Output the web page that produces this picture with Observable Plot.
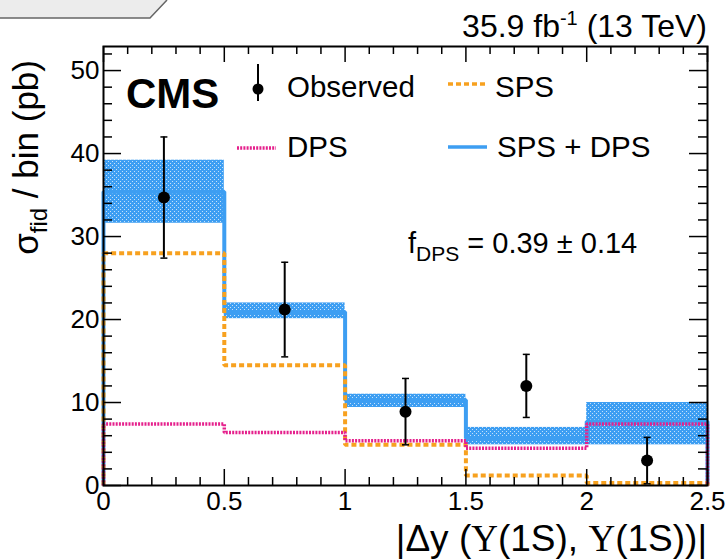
<!DOCTYPE html>
<html><head><meta charset="utf-8">
<script src="https://cdn.jsdelivr.net/npm/d3@7"></script>
<script src="https://cdn.jsdelivr.net/npm/@observablehq/plot@0.6"></script>
<style>
body{margin:0;background:#fff;}
#wrap{position:relative;width:726px;height:560px;overflow:hidden;background:#fff;}
</style></head><body>
<svg width="0" height="0" style="position:absolute"><defs>
<pattern id="hatch" width="4" height="4" patternUnits="userSpaceOnUse">
<rect width="4" height="4" fill="#3d9ef2"/>
<rect x="0" y="1" width="1" height="1" fill="#c4e1fb"/>
<rect x="2" y="3" width="1" height="1" fill="#c4e1fb"/>
</pattern></defs></svg>
<div id="wrap"></div>
<script>
// ---- data ----
const binEdges = [0, 0.5, 1, 1.5, 2, 2.5];
const binCenters = [0.25, 0.75, 1.25, 1.75, 2.25];
const observed = [34.7, 21.2, 8.9, 12.0, 3.0];
const obsHigh = [42.0, 26.9, 12.9, 15.8, 5.8];
const obsLow = [27.4, 15.5, 4.9, 8.2, 0.2];
const sps = [28.0, 14.5, 4.9, 1.2, 0.3];
const dps = [7.4, 6.4, 5.4, 4.5, 7.4];
const total = [35.4, 20.9, 10.3, 5.7, 7.7];
const bandLow = [31.6, 20.1, 9.4, 4.9, 4.9];
const bandHigh = [39.2, 22.0, 11.0, 7.0, 10.0];
const xTicks = [0, 0.5, 1, 1.5, 2, 2.5];
const yTicks = [0, 10, 20, 30, 40, 50];

// ---- derived tables ----
const bins = observed.map((_, i) => ({x1: binEdges[i], x2: binEdges[i + 1], lo: bandLow[i], hi: bandHigh[i]}));
const points = binCenters.map((x, i) => ({x, y: observed[i], lo: obsLow[i], hi: obsHigh[i]}));
function outline(vals) {
  const pts = [{x: binEdges[0], y: 0}];
  vals.forEach((v, i) => { pts.push({x: binEdges[i], y: v}, {x: binEdges[i + 1], y: v}); });
  pts.push({x: binEdges[vals.length], y: 0});
  return pts;
}
const xMinor = d3.range(0, 25).map(i => i / 10).filter(v => Math.abs(v * 2 - Math.round(v * 2)) > 1e-6);
const yMinor = d3.range(0, 53, 2).filter(v => v % 10 !== 0);

const W = 726, H = 560, mL = 103, mR = 19, mT = 46, mB = 75;
const fw = W - mL - mR, fh = H - mT - mB;
const blue = "#3d9ef2", orange = "#f7a11f", magenta = "#e5208c";
const capSymbol = {draw(ctx, size) { const r = Math.sqrt(size / Math.PI); ctx.moveTo(-r, 0); ctx.lineTo(r, 0); }};

const chart = Plot.plot({
  width: W, height: H, marginLeft: mL, marginRight: mR, marginTop: mT, marginBottom: mB,
  x: {domain: [0, 2.5]},
  y: {domain: [0, 52.9]},
  style: {fontFamily: "'Liberation Sans', Arial, sans-serif", background: "#fff", color: "#000", overflow: "visible"},
  marks: [
    Plot.rect(bins, {x1: "x1", x2: "x2", y1: "lo", y2: "hi", fill: "url(#hatch)"}),
    Plot.line(outline(total), {x: "x", y: "y", stroke: blue, strokeWidth: 4, strokeLinecap: "butt", strokeLinejoin: "miter"}),
    Plot.line(outline(sps), {x: "x", y: "y", stroke: orange, strokeWidth: 4, strokeDasharray: "5,3", strokeLinecap: "butt", strokeLinejoin: "miter"}),
    Plot.line(outline(dps), {x: "x", y: "y", stroke: magenta, strokeWidth: 3.5, strokeDasharray: "2,1.2", strokeLinecap: "butt", strokeLinejoin: "miter"}),
    Plot.ruleX(points, {x: "x", y1: "lo", y2: "hi", stroke: "#000", strokeWidth: 2}),
    Plot.dot(points, {x: "x", y: "hi", symbol: capSymbol, r: 3.5, stroke: "#000", strokeWidth: 1.5, fill: "none"}),
    Plot.dot(points, {x: "x", y: "lo", symbol: capSymbol, r: 3.5, stroke: "#000", strokeWidth: 1.5, fill: "none"}),
    Plot.dot(points, {x: "x", y: "y", r: 6, fill: "#000"}),
    // inward ticks
    Plot.tickY(yTicks, {y: d => d, stroke: "#000", strokeWidth: 1.5, insetRight: fw - 18}),
    Plot.tickY(yMinor, {y: d => d, stroke: "#000", strokeWidth: 1.5, insetRight: fw - 9}),
    Plot.tickY(yTicks, {y: d => d, stroke: "#000", strokeWidth: 1.5, insetLeft: fw - 18}),
    Plot.tickY(yMinor, {y: d => d, stroke: "#000", strokeWidth: 1.5, insetLeft: fw - 9}),
    Plot.tickX(xTicks, {x: d => d, stroke: "#000", strokeWidth: 1.5, insetTop: fh - 16}),
    Plot.tickX(xMinor, {x: d => d, stroke: "#000", strokeWidth: 1.5, insetTop: fh - 8}),
    Plot.tickX(xTicks, {x: d => d, stroke: "#000", strokeWidth: 1.5, insetBottom: fh - 16}),
    Plot.tickX(xMinor, {x: d => d, stroke: "#000", strokeWidth: 1.5, insetBottom: fh - 8}),
    Plot.axisY(yTicks, {tickSize: 0, tickPadding: 4, fontSize: 26, label: null, tickFormat: d => String(d)}),
    Plot.axisX(xTicks, {tickSize: 0, tickPadding: 6, fontSize: 26, label: null, tickFormat: d => String(d)}),
    Plot.frame({stroke: "#000", strokeWidth: 2})
  ]
});
document.getElementById("wrap").appendChild(chart);

// ---- annotations ----
const svg = d3.select(chart);
const ff = "'Liberation Sans', Arial, sans-serif";
// top-left tab
svg.append("path").attr("d", "M0,0 L167,0 L150,18 L0,18 Z").attr("fill", "#ececec");
svg.append("path").attr("d", "M0,18 L150,18 L167,0").attr("fill", "none").attr("stroke", "#666").attr("stroke-width", 1.5);

// lumi text
const lumi = svg.append("text").attr("x", 707).attr("y", 37).attr("text-anchor", "end")
  .attr("font-family", ff).attr("font-size", 32).attr("fill", "#000");
lumi.append("tspan").text("35.9 fb");
lumi.append("tspan").attr("dy", -12).attr("font-size", 20).text("-1");
lumi.append("tspan").attr("dy", 12).text(" (13 TeV)");

// CMS
svg.append("text").attr("x", 126).attr("y", 108).attr("text-anchor", "start").attr("font-family", ff).attr("font-weight", "bold")
  .attr("font-size", 42).attr("fill", "#000").text("CMS");

// legend
const lg = svg.append("g").attr("font-family", ff).attr("font-size", 29.5).attr("fill", "#000").attr("text-anchor", "start");
lg.append("line").attr("x1", 258).attr("x2", 258).attr("y1", 64).attr("y2", 101).attr("stroke", "#000").attr("stroke-width", 2);
lg.append("circle").attr("cx", 258).attr("cy", 89).attr("r", 5.5).attr("fill", "#000");
lg.append("text").attr("x", 287).attr("y", 97).text("Observed");
lg.append("line").attr("x1", 448).attr("x2", 486).attr("y1", 84).attr("y2", 84).attr("stroke", orange).attr("stroke-width", 3.5).attr("stroke-dasharray", "5,3");
lg.append("text").attr("x", 495).attr("y", 97).text("SPS");
lg.append("line").attr("x1", 237).attr("x2", 276).attr("y1", 148).attr("y2", 148).attr("stroke", magenta).attr("stroke-width", 3.5).attr("stroke-dasharray", "2,1.2");
lg.append("text").attr("x", 287).attr("y", 157).text("DPS");
lg.append("line").attr("x1", 448).attr("x2", 487).attr("y1", 147).attr("y2", 147).attr("stroke", blue).attr("stroke-width", 3.5);
lg.append("text").attr("x", 497).attr("y", 157).text("SPS + DPS");

// f_DPS
const fd = svg.append("text").attr("x", 408).attr("y", 253).attr("text-anchor", "start").attr("font-family", ff).attr("font-size", 29).attr("fill", "#000");
fd.append("tspan").text("f");
fd.append("tspan").attr("dy", 8).attr("font-size", 21).text("DPS");
fd.append("tspan").attr("dy", -8).text(" = 0.39 \u00B1 0.14");

// y label
const yl = svg.append("text").attr("transform", "translate(38,60) rotate(-90)").attr("text-anchor", "end")
  .attr("font-family", ff).attr("font-size", 35).attr("fill", "#000");
yl.append("tspan").text("\u03C3");
yl.append("tspan").attr("dy", 9).attr("font-size", 24).text("fid");
yl.append("tspan").attr("dy", -9).text(" / bin (pb)");

// x label
const xl = svg.append("text").attr("x", 707).attr("y", 551).attr("text-anchor", "end")
  .attr("font-family", ff).attr("font-size", 37).attr("fill", "#000");
xl.append("tspan").text("|\u0394y (");
xl.append("tspan").attr("font-family", "'Liberation Serif', serif").text("\u03A5");
xl.append("tspan").text("(1S), ");
xl.append("tspan").attr("font-family", "'Liberation Serif', serif").text("\u03A5");
xl.append("tspan").text("(1S))|");
</script>
</body></html>
